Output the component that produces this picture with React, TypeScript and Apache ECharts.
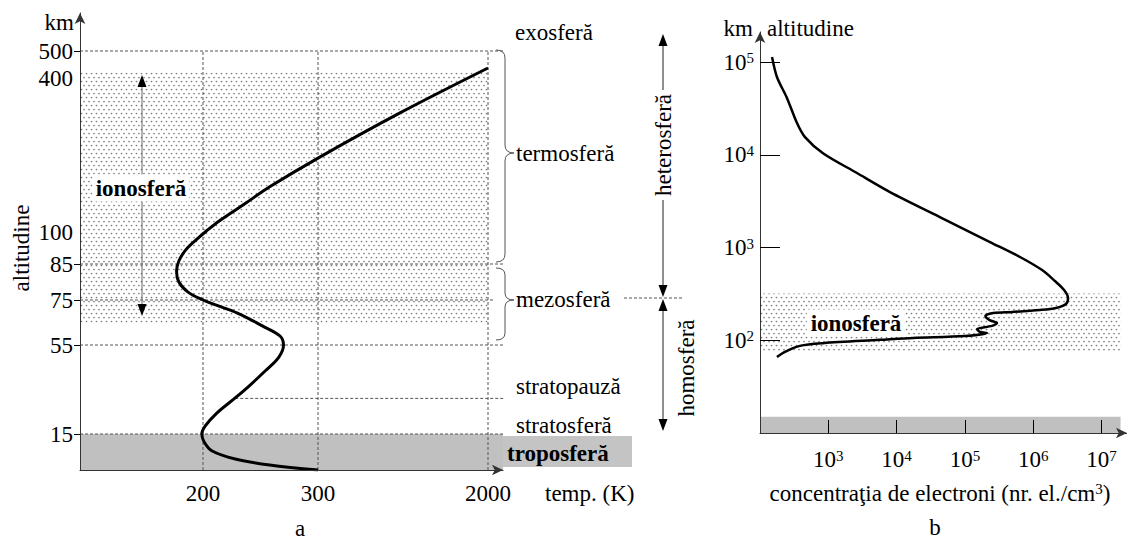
import React, { useEffect, useRef } from "react";
import * as echarts from "echarts";

const FONT = "Liberation Serif";
const FS = 23;

// ---------------- Panel a : temperature profile (schematic axes) ----------------
const altLabelKm = [15, 55, 75, 85, 100, 400, 500];
const altTickMarkKm = [15, 55, 75, 85, 500];
const tempLabelK = [200, 300, 2000];

const curveTempK = [300, 258, 228, 208, 201, 199, 202, 212, 228, 241, 254, 266, 270, 267, 252, 230, 211, 200, 187, 179, 177, 179, 185, 194, 203, 215, 237, 258, 300, 1120, 2000];
const curveAltKm = [0, 2.1, 4.6, 7.9, 11.7, 15, 18.6, 24.4, 31.2, 37, 43.3, 49.6, 55, 59, 63.4, 69.2, 72.8, 75, 77.2, 80, 83, 86.4, 91.6, 96.3, 102, 123, 156, 188, 244, 332, 437];

const ionosphereKm = [65, 420];
const troposphereKm = [0, 15];
const stratopauseKm = 31;
const guideAltKm = [500, 85, 75, 55, 15];
const guideTempK = [200, 300, 2000];

// ---------------- Panel b : electron concentration (log-log) ----------------
const concTickExp = [3, 4, 5, 6, 7];
const altTickExpB = [2, 3, 4, 5];
const electronConc = [150, 177, 248, 348, 456, 836, 2630, 8000, 43000, 2.33e5, 6.4e5, 1.35e6, 2.08e6, 2.83e6, 3.24e6, 3.02e6, 2.16e6, 1.26e6, 5.0e5, 2.6e5, 2.0e5, 2.3e5, 2.95e5, 2.5e5, 1.5e5, 1.65e5, 2.1e5, 1.0e5, 1.75e4, 5700, 840, 385, 232, 177];
const electronAltKm = [113000, 69000, 41000, 22000, 15500, 10400, 6350, 3960, 2130, 1145, 790, 571, 435, 348, 285, 246, 223, 212, 202, 197, 183, 165, 153, 143, 132, 123, 120, 111, 106, 101, 93, 87, 75, 66];
const ionosphereKmB = [75, 320];
const troposphereKmB = [10, 15];
const concRangeB = [100, 1.9e7];

// ---------------- schematic scale of panel a (axis units) ----------------
const SCALE_ALT_KM = [0, 15, 55, 75, 85, 100, 400, 500];
const SCALE_ALT_U = [0, 36, 125, 170, 206, 238, 392, 419];
const SCALE_TEMP_K = [200, 300, 2000];
const SCALE_TEMP_U = [123, 238, 408];

function interp(v: number, xs: number[], ys: number[]) {
  let i = 0;
  if (v >= xs[xs.length - 1]) i = xs.length - 2;
  else if (v > xs[0]) {
    while (v > xs[i + 1]) i++;
  }
  const t = (v - xs[i]) / (xs[i + 1] - xs[i]);
  return ys[i] + t * (ys[i + 1] - ys[i]);
}
const altU = (km: number) => interp(km, SCALE_ALT_KM, SCALE_ALT_U);
const tempU = (k: number) => interp(k, SCALE_TEMP_K, SCALE_TEMP_U);
function nearestLabel(vals: number[], f: (x: number) => number, u: number) {
  let best = vals[0];
  let bd = Infinity;
  vals.forEach((v) => {
    const d = Math.abs(f(v) - u);
    if (d < bd) {
      bd = d;
      best = v;
    }
  });
  return String(best);
}

// ---------------- helpers for graphic annotations ----------------
function txt(text: string, x: number, y: number, o: any = {}) {
  return {
    type: "text",
    x,
    y,
    z: o.z ?? 50,
    rotation: o.rotation ?? 0,
    silent: true,
    style: {
      text,
      font: `${o.bold ? "bold " : ""}${o.size ?? FS}px ${FONT}`,
      fill: "#000",
      textAlign: o.align ?? "left",
      textVerticalAlign: "middle",
      backgroundColor: o.bg,
      padding: o.pad,
      rich: o.rich,
    },
  };
}
function seg(x1: number, y1: number, x2: number, y2: number, stroke = "#000", lineWidth = 1, lineDash?: number[]) {
  return { type: "line", z: 40, silent: true, shape: { x1, y1, x2, y2 }, style: { stroke, lineWidth, lineDash } };
}
function head(x: number, y: number, up: boolean, w = 9, h = 12) {
  const b = up ? y + h : y - h;
  return { type: "polygon", z: 45, silent: true, shape: { points: [[x, y], [x - w / 2, b], [x + w / 2, b]] }, style: { fill: "#000" } };
}
function quad(x1: number, y1: number, cx: number, cy: number, x2: number, y2: number) {
  return { type: "bezierCurve", z: 40, silent: true, shape: { x1, y1, x2, y2, cpx1: cx, cpy1: cy }, style: { stroke: "#555", lineWidth: 1, fill: null } };
}
function brace(x0: number, xs: number, xt: number, y0: number, ym: number, y1: number, r = 8) {
  return [
    quad(x0, y0, xs, y0, xs, y0 + r),
    seg(xs, y0 + r, xs, ym - r, "#555"),
    quad(xs, ym - r, xs, ym, xt, ym),
    quad(xt, ym, xs, ym, xs, ym + r),
    seg(xs, ym + r, xs, y1 - r, "#555"),
    quad(xs, y1 - r, xs, y1, x0, y1),
  ];
}

function dotPattern() {
  const c = document.createElement("canvas");
  c.width = 5;
  c.height = 8;
  const ctx = c.getContext("2d")!;
  ctx.fillStyle = "#ffffff";
  ctx.fillRect(0, 0, 5, 8);
  ctx.fillStyle = "#7a7a7a";
  ctx.beginPath();
  ctx.arc(1.5, 1.5, 0.85, 0, Math.PI * 2);
  ctx.arc(4.0, 5.5, 0.85, 0, Math.PI * 2);
  ctx.fill();
  return { image: c, repeat: "repeat", imageWidth: 5, imageHeight: 8 };
}

function buildOption() {
  const dots = dotPattern();
  const supRich = {
    b: { fontSize: FS, fontFamily: FONT, color: "#000" },
    s: { fontSize: 15, fontFamily: FONT, color: "#000", verticalAlign: "top" },
  };
  const arrowLine = (color = "#333") => ({
    show: true,
    onZero: false,
    symbol: ["none", "arrow"],
    symbolSize: [8, 11],
    lineStyle: { color, width: 1 },
  });

  const dash = { type: [3, 2], width: 1, color: "#555" };
  const hExtent: Record<number, number[]> = { 500: [0, 433], 85: [0, 428], 75: [0, 415], 55: [0, 428], 15: [0, 430] };

  const guideSeries: any[] = [];
  guideAltKm.forEach((km) => {
    guideSeries.push({
      type: "line", xAxisIndex: 0, yAxisIndex: 0, silent: true, clip: false, symbol: "none", z: 3,
      lineStyle: dash,
      data: [[hExtent[km][0], altU(km)], [hExtent[km][1], altU(km)]],
    });
  });
  guideSeries.push({
    type: "line", xAxisIndex: 0, yAxisIndex: 0, silent: true, clip: false, symbol: "none", z: 3,
    lineStyle: dash,
    data: [[tempU(228), altU(stratopauseKm)], [435, altU(stratopauseKm)]],
  });
  guideTempK.forEach((k) => {
    guideSeries.push({
      type: "line", xAxisIndex: 0, yAxisIndex: 0, silent: true, clip: false, symbol: "none", z: 3,
      lineStyle: dash,
      data: [[tempU(k), 0], [tempU(k), altU(500)]],
    });
  });

  const graphic: any[] = [
    // panel a texts
    txt("km", 74, 22, { align: "right" }),
    txt("altitudine", 21, 248, { align: "center", rotation: Math.PI / 2 }),
    txt("ionosferă", 141, 188, { align: "center", bold: true, bg: "#fff", pad: [2, 3], z: 60 }),
    txt("exosferă", 515, 32),
    txt("termosferă", 516, 153),
    txt("mezosferă", 516, 299),
    txt("stratopauză", 516, 386),
    txt("stratosferă", 516, 425),
    { type: "rect", z: 55, silent: true, shape: { x: 503, y: 436, width: 129, height: 31 }, style: { fill: "#c4c4c4" } },
    txt("troposferă", 507, 453, { bold: true, z: 60 }),
    txt("temp. (K)", 545, 493),
    txt("a", 300, 528, { align: "center" }),
    // heterosferă / homosferă arrows
    seg(663, 44, 663, 288, "#222"),
    head(663, 34, true),
    head(663, 297, false),
    seg(663, 309, 663, 420, "#222"),
    head(663, 299, true),
    head(663, 431, false),
    seg(624, 298, 682, 298, "#555", 1, [3, 2]),
    txt("heterosferă", 663, 145, { align: "center", rotation: Math.PI / 2, bg: "#fff", pad: [0, 4], z: 60 }),
    txt("homosferă", 686, 368, { align: "center", rotation: Math.PI / 2 }),
    // ionosphere double arrow (panel a)
    seg(142, 85, 142, 305, "#666"),
    head(142, 75, true, 9, 12),
    head(142, 316, false, 9, 12),
    // braces
    ...brace(496, 505, 514, 50, 153, 262),
    ...brace(496, 505, 514, 268, 300, 340, 7),
    // panel b texts
    txt("km", 753, 28, { align: "right" }),
    txt("altitudine", 767, 28),
    txt("ionosferă", 856, 323, { align: "center", bold: true, bg: "#fff", pad: [2, 4], z: 60 }),
    txt("{n|concentraţia de electroni (nr. el./cm}{s|3}{n|)}", 940, 493, {
      align: "center",
      rich: {
        n: { fontSize: FS, fontFamily: FONT, color: "#000" },
        s: { fontSize: 15, fontFamily: FONT, color: "#000", verticalAlign: "top" },
      },
    }),
    txt("b", 935, 527, { align: "center" }),
  ];

  return {
    animation: false,
    backgroundColor: "#fff",
    textStyle: { fontFamily: FONT, fontSize: FS, color: "#000" },
    grid: [
      { left: 80, top: 13, width: 423, height: 457 },
      { left: 760, top: 32, width: 367, height: 401 },
    ],
    xAxis: [
      {
        gridIndex: 0, type: "value", min: 0, max: 423, z: 10,
        axisLine: arrowLine("#333"),
        axisTick: { show: false },
        splitLine: { show: false },
        axisLabel: {
          customValues: tempLabelK.map(tempU),
          formatter: (v: number) => nearestLabel(tempLabelK, tempU, v),
          margin: 12, fontSize: FS, fontFamily: FONT, color: "#000",
        },
      },
      {
        gridIndex: 1, type: "value", min: 2, max: 2 + 367 / 68.3, z: 10,
        axisLine: arrowLine("#333"),
        axisTick: { show: true, inside: true, length: 13, customValues: concTickExp, lineStyle: { color: "#000" } },
        splitLine: { show: false },
        axisLabel: {
          customValues: concTickExp,
          formatter: (v: number) => `{b|10}{s|${Math.round(v)}}`,
          rich: supRich, margin: 15,
        },
      },
    ],
    yAxis: [
      {
        gridIndex: 0, type: "value", min: 0, max: 457, z: 10,
        axisLine: arrowLine("#333"),
        axisTick: { show: true, inside: false, length: 6, customValues: altTickMarkKm.map(altU), lineStyle: { color: "#000" } },
        splitLine: { show: false },
        axisLabel: {
          customValues: altLabelKm.map(altU),
          formatter: (v: number) => nearestLabel(altLabelKm, altU, v),
          margin: 7, fontSize: FS, fontFamily: FONT, color: "#000",
        },
      },
      {
        gridIndex: 1, type: "value", min: 1, max: 1 + 401 / 92.75, z: 10,
        axisLine: arrowLine("#333"),
        axisTick: { show: true, inside: true, length: 20, customValues: altTickExpB, lineStyle: { color: "#000" } },
        splitLine: { show: false },
        axisLabel: {
          customValues: altTickExpB,
          formatter: (v: number) => `{b|10}{s|${Math.round(v)}}`,
          rich: supRich, margin: 6,
        },
      },
    ],
    series: [
      // panel a backgrounds
      {
        type: "line", xAxisIndex: 0, yAxisIndex: 0, data: [], silent: true, z: 1,
        markArea: {
          silent: true, z: 1, label: { show: false },
          data: [
            [{ coord: [0, altU(troposphereKm[0])], itemStyle: { color: "#c0c0c0" } }, { coord: [423, altU(troposphereKm[1])] }],
            [{ coord: [0, altU(ionosphereKm[0])], itemStyle: { color: dots } }, { coord: [tempU(2000), altU(ionosphereKm[1])] }],
          ],
        },
      },
      ...guideSeries,
      {
        type: "line", xAxisIndex: 0, yAxisIndex: 0, silent: true, z: 5, symbol: "none", smooth: 0.35,
        lineStyle: { color: "#000", width: 3 },
        data: curveTempK.map((t, i) => [tempU(t), altU(curveAltKm[i])]),
      },
      // panel b backgrounds
      {
        type: "line", xAxisIndex: 1, yAxisIndex: 1, data: [], silent: true, z: 1,
        markArea: {
          silent: true, z: 1, label: { show: false },
          data: [
            [{ coord: [Math.log10(concRangeB[0]), Math.log10(troposphereKmB[0])], itemStyle: { color: "#c0c0c0" } }, { coord: [Math.log10(concRangeB[1]), Math.log10(troposphereKmB[1])] }],
            [{ coord: [Math.log10(concRangeB[0]), Math.log10(ionosphereKmB[0])], itemStyle: { color: dots } }, { coord: [Math.log10(concRangeB[1]), Math.log10(ionosphereKmB[1])] }],
          ],
        },
      },
      {
        type: "line", xAxisIndex: 1, yAxisIndex: 1, silent: true, z: 5, symbol: "none", smooth: 0.3,
        lineStyle: { color: "#000", width: 2.5 },
        data: electronConc.map((c, i) => [Math.log10(c), Math.log10(electronAltKm[i])]),
      },
    ],
    graphic,
  };
}

export default function App() {
  const ref = useRef<HTMLDivElement>(null);
  useEffect(() => {
    const chart = echarts.init(ref.current!, undefined, { renderer: "svg" });
    chart.setOption(buildOption() as any);
    return () => chart.dispose();
  }, []);
  return (
    <div
      ref={ref}
      style={{ position: "absolute", left: 0, top: 0, width: 1127, height: 540, background: "#fff" }}
    />
  );
}
